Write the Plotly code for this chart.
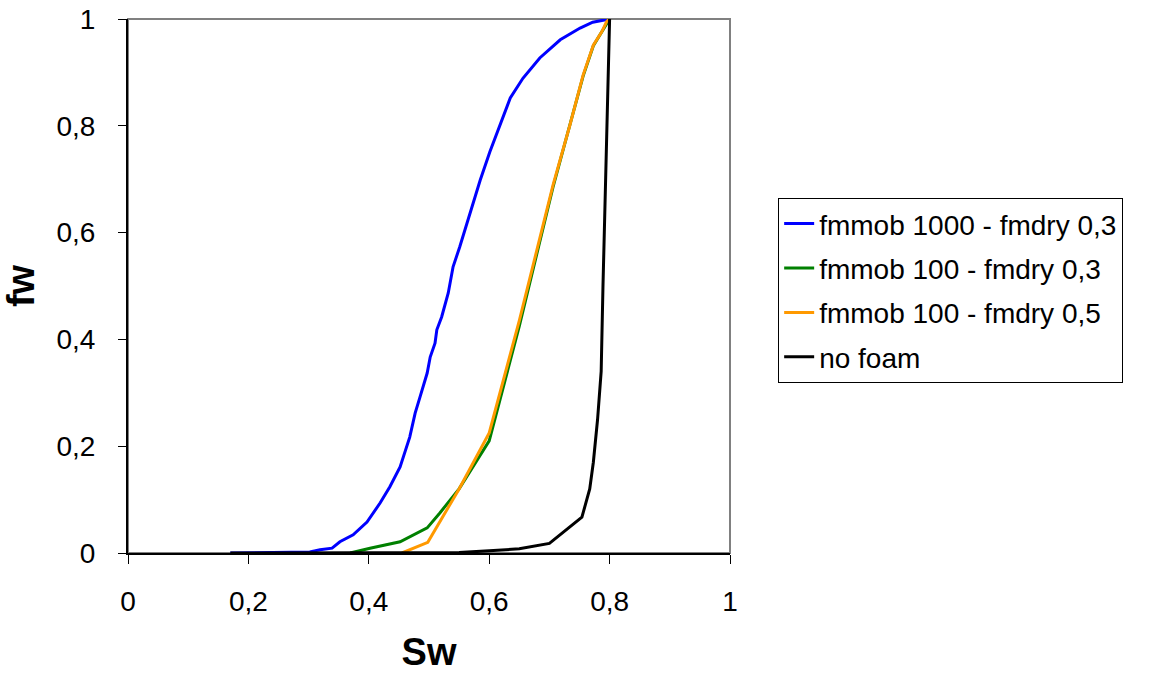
import plotly.graph_objects as go

# Series data (Sw, fw)
sw_1000_03 = [0.17, 0.302, 0.319, 0.339, 0.352, 0.374, 0.397, 0.419, 0.435, 0.452, 0.468, 0.477, 0.485, 0.490,
              0.497, 0.502, 0.510, 0.513, 0.521, 0.532, 0.540, 0.551, 0.568, 0.585, 0.601, 0.618, 0.635, 0.656,
              0.684, 0.718, 0.751, 0.772, 0.792, 0.80]
fw_1000_03 = [0.0, 0.002, 0.006, 0.009, 0.021, 0.034, 0.058, 0.094, 0.124, 0.161, 0.217, 0.262, 0.292, 0.311,
              0.337, 0.367, 0.393, 0.418, 0.442, 0.487, 0.536, 0.573, 0.637, 0.698, 0.751, 0.801, 0.852, 0.889,
              0.927, 0.961, 0.983, 0.994, 0.998, 1.0]

sw_100_03 = [0.369, 0.402, 0.452, 0.497, 0.518, 0.55, 0.60, 0.65, 0.706, 0.734, 0.756, 0.773, 0.787, 0.80]
fw_100_03 = [0.0, 0.009, 0.021, 0.047, 0.075, 0.12, 0.21, 0.425, 0.685, 0.80, 0.893, 0.95, 0.975, 1.0]

sw_100_05 = [0.455, 0.498, 0.55, 0.60, 0.65, 0.706, 0.734, 0.756, 0.773, 0.787, 0.795, 0.80]
fw_100_05 = [0.0, 0.02, 0.12, 0.225, 0.435, 0.689, 0.801, 0.895, 0.951, 0.976, 0.995, 1.0]

sw_nofoam = [0.17, 0.45, 0.55, 0.60, 0.65, 0.70, 0.754, 0.767, 0.773, 0.780, 0.786, 0.789, 0.792, 0.796, 0.80]
fw_nofoam = [0.0, 0.0, 0.001, 0.004, 0.008, 0.018, 0.067, 0.12, 0.17, 0.25, 0.34, 0.50, 0.64, 0.82, 1.0]

names = ["fmmob 1000 - fmdry 0,3", "fmmob 100 - fmdry 0,3", "fmmob 100 - fmdry 0,5", "no foam"]
colors = ["#0000FF", "#008000", "#FF9900", "#000000"]

x_ticks = [0, 0.2, 0.4, 0.6, 0.8, 1]
y_ticks = [0, 0.2, 0.4, 0.6, 0.8, 1]

series = [(sw_1000_03, fw_1000_03), (sw_100_03, fw_100_03), (sw_100_05, fw_100_05), (sw_nofoam, fw_nofoam)]

fig = go.Figure()
for i, ((xs, ys), name, col) in enumerate(zip(series, names, colors)):
    fig.add_trace(go.Scatter(x=xs, y=ys, mode="lines", name=name, legendgroup=f"g{i}",
                             line=dict(color=col, width=3)))

font_family = "Liberation Sans, Arial, sans-serif"

fig.update_layout(
    width=1157, height=673,
    margin=dict(l=128, r=427, t=19, b=120, autoexpand=False),
    paper_bgcolor="white", plot_bgcolor="white",
    separators=", ",
    font=dict(family=font_family, size=28, color="black"),
    showlegend=True,
    legend=dict(x=1.08, y=0.665, xanchor="left", yanchor="top",
                bordercolor="black", borderwidth=1,
                font=dict(size=28, family=font_family), tracegroupgap=5),
    shapes=[dict(type="rect", xref="paper", yref="paper", x0=0, y0=0, x1=1, y1=1,
                 line=dict(color="#808080", width=2), layer="below")],
)

fig.update_xaxes(range=[0, 1], tickvals=x_ticks, ticks="outside", ticklen=9, tickcolor="black",
                 showline=True, linecolor="black", linewidth=2, showgrid=False, zeroline=False,
                 tickfont=dict(size=28), ticklabelstandoff=13, ticklabeloverflow="allow",
                 automargin=False,
                 title=dict(text="<b>Sw</b>", font=dict(size=38), standoff=29))
fig.update_yaxes(range=[0, 1], tickvals=y_ticks, ticks="outside", ticklen=8, tickcolor="black",
                 showline=True, linecolor="black", linewidth=2, showgrid=False, zeroline=False,
                 tickfont=dict(size=28), ticklabelstandoff=17, ticklabeloverflow="allow",
                 automargin=False,
                 title=dict(text="<b>fw</b>", font=dict(size=38), standoff=27))

fig.write_html("out.html", config={"displayModeBar": False},
               post_script="document.body.style.margin='0px';")
